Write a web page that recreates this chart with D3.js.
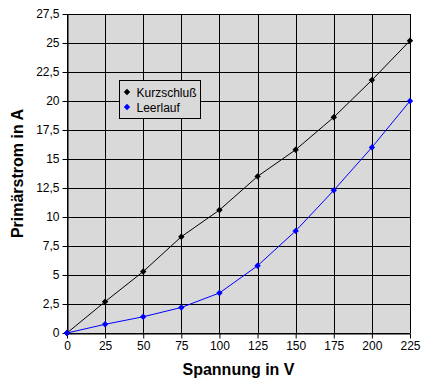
<!DOCTYPE html>
<html>
<head>
<meta charset="utf-8">
<script src="https://cdn.jsdelivr.net/npm/d3@7"></script>
<style>
  body { margin: 0; background: #fff; }
  text { font-family: "Liberation Sans", Arial, sans-serif; }
</style>
</head>
<body>
<div id="chart"></div>
<script>
// data
const spannung = [0, 25, 50, 75, 100, 125, 150, 175, 200, 225];
const kurzschluss = [0, 2.7, 5.3, 8.3, 10.6, 13.5, 15.8, 18.6, 21.8, 25.2];
const leerlauf = [0, 0.75, 1.4, 2.2, 3.45, 5.8, 8.8, 12.3, 16.0, 20.0];
const yTicks = [0, 2.5, 5, 7.5, 10, 12.5, 15, 17.5, 20, 22.5, 25, 27.5];
const seriesNames = ["Kurzschluß", "Leerlauf"];
const seriesColors = ["#000000", "#0000ff"];

const width = 426, height = 385;
const margin = {top: 14, right: 16, bottom: 52, left: 67};

const svg = d3.select("#chart")
  .append("svg")
    .attr("width", width)
    .attr("height", height);

const x = d3.scaleLinear([0, 225], [margin.left, width - margin.right]);
const y = d3.scaleLinear([0, 27.5], [height - margin.bottom, margin.top]);
const fmt = d => String(d).replace(".", ",");

// plot area
svg.append("rect")
  .attr("x", x(0)).attr("y", y(27.5))
  .attr("width", x(225) - x(0)).attr("height", y(0) - y(27.5))
  .attr("fill", "#d9d9d9");

// grid
svg.append("g")
  .selectAll("line")
  .data(yTicks)
  .join("line")
    .attr("x1", x(0)).attr("x2", x(225))
    .attr("y1", d => Math.round(y(d)) + 0.5).attr("y2", d => Math.round(y(d)) + 0.5)
    .attr("stroke", "#000");
svg.append("g")
  .selectAll("line")
  .data(spannung)
  .join("line")
    .attr("x1", d => Math.round(x(d)) + 0.5).attr("x2", d => Math.round(x(d)) + 0.5)
    .attr("y1", y(0)).attr("y2", y(27.5))
    .attr("stroke", "#000");

// axes
const xAxis = svg.append("g")
  .attr("transform", `translate(0,${Math.round(y(0)) + 0.5})`)
  .call(d3.axisBottom(x).tickValues(spannung).tickSize(5).tickPadding(3).tickSizeOuter(0));
const yAxis = svg.append("g")
  .attr("transform", `translate(${Math.round(x(0)) + 0.5},0)`)
  .call(d3.axisLeft(y).tickValues(yTicks).tickFormat(fmt).tickSize(5).tickPadding(3).tickSizeOuter(0));
[xAxis, yAxis].forEach(g => {
  g.selectAll("text").attr("font-size", 12).attr("fill", "#000")
    .attr("font-family", "'Liberation Sans', Arial, sans-serif");
  g.selectAll("line").attr("stroke", "#000");
  g.select(".domain").attr("stroke", "#000");
});

// axis titles
svg.append("text")
  .attr("x", (x(0) + x(225)) / 2).attr("y", 375)
  .attr("text-anchor", "middle")
  .attr("font-size", 16).attr("font-weight", "bold")
  .text("Spannung in V");
svg.append("text")
  .attr("transform", `translate(23,${(y(0) + y(27.5)) / 2}) rotate(-90)`)
  .attr("text-anchor", "middle")
  .attr("font-size", 16).attr("font-weight", "bold")
  .text("Primärstrom in A");

// series
const series = [kurzschluss, leerlauf];
const line = d3.line().x((d, i) => x(spannung[i])).y(d => y(d));
const diamond = d3.symbol(d3.symbolDiamond2, 26);

series.forEach((vals, s) => {
  svg.append("path")
    .datum(vals)
    .attr("d", line)
    .attr("fill", "none")
    .attr("stroke", seriesColors[s])
    .attr("stroke-width", 1);
  svg.append("g")
    .selectAll("path")
    .data(vals)
    .join("path")
      .attr("transform", (d, i) => `translate(${x(spannung[i])},${y(d)})`)
      .attr("d", diamond)
      .attr("fill", seriesColors[s]);
});

// legend
const legend = svg.append("g").attr("transform", "translate(119.5,80.5)");
legend.append("rect")
  .attr("width", 81).attr("height", 38)
  .attr("fill", "#d9d9d9").attr("stroke", "#000");
seriesNames.forEach((name, s) => {
  legend.append("path")
    .attr("transform", `translate(7.5,${11.5 + s * 15})`)
    .attr("d", diamond)
    .attr("fill", seriesColors[s]);
  legend.append("text")
    .attr("x", 17).attr("y", 16 + s * 15)
    .attr("font-size", 12)
    .text(name);
});
</script>
</body>
</html>
